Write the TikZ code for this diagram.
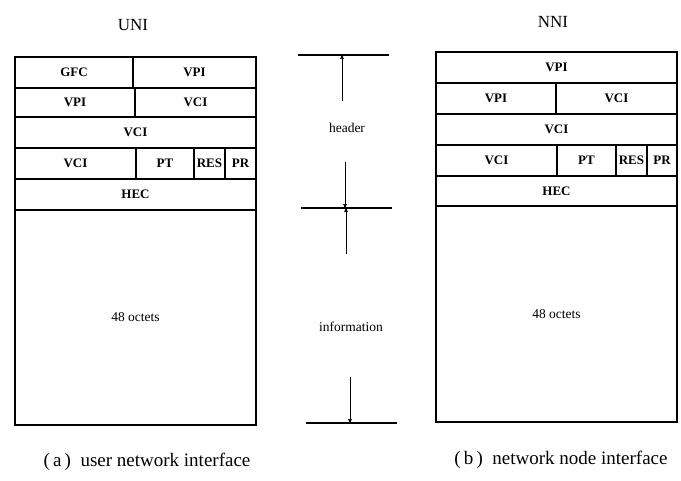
\documentclass[tikz,border=0pt]{standalone}
\usepackage{fontspec}
\setmainfont{Liberation Serif}
\usetikzlibrary{arrows}

\begin{document}
\begin{tikzpicture}[x=1pt,y=-1pt,>=stealth',semithick]
\tikzstyle{cell}=[draw=black,line width=1.2pt,inner sep=0pt,outer sep=0pt,anchor=north west,font=\fontsize{13}{15}\selectfont\bfseries]
\tikzstyle{tag}=[font=\fontsize{13.5}{16}\selectfont]
\tikzstyle{title}=[font=\fontsize{17}{20}\selectfont]
\tikzstyle{caption}=[font=\fontsize{19}{22}\selectfont]
\tikzstyle{bar}=[line width=1.5pt]
\useasboundingbox (0,0) rectangle (681,481);

% UNI cell
\node[title] (uni) at (133,25) {UNI};
\foreach \n/\x/\y/\w/\h/\t in {ugfc/15/57/118/31/GFC, uvpia/133/57/123/31/VPI,
    uvpib/15/88/120/29/VPI, uvcia/135/88/121/29/VCI,
    uvcib/15/117/241/31/VCI,
    uvcic/15/148/121/31/VCI, upt/136/148/58/31/PT, ures/194/148/31/31/RES, upr/225/148/31/31/PR,
    uhec/15/179/241/31/HEC}
  \node[cell,minimum width=\w pt,minimum height=\h pt] (\n) at (\x,\y) {\t};
\node[cell,tag,minimum width=241pt,minimum height=215pt] (upay) at (15,210) {48 octets};
\node[caption] (capa) at (147,462) {(\,a\,)\ \ user network interface};

% NNI cell
\node[title] (nni) at (553,22) {NNI};
\foreach \n/\x/\y/\w/\h/\t in {nvpia/436/52/241/31/VPI,
    nvpib/436/83/120/31/VPI, nvcia/556/83/121/31/VCI,
    nvcib/436/114/241/31/VCI,
    nvcic/436/145/121/31/VCI, npt/557/145/59/31/PT, nres/616/145/31/31/RES, npr/647/145/30/31/PR,
    nhec/436/176/241/30/HEC}
  \node[cell,minimum width=\w pt,minimum height=\h pt] (\n) at (\x,\y) {\t};
\node[cell,tag,minimum width=241pt,minimum height=216pt] (npay) at (436,206) {48 octets};
\node[caption] (capb) at (561,460) {(\,b\,)\ \ network node interface};

% header / information
\coordinate (topl) at (298,55);  \coordinate (topr) at (389,55);
\coordinate (midl) at (301,208); \coordinate (midr) at (392,208);
\coordinate (botl) at (306,423); \coordinate (botr) at (397,423);
\draw[bar] (topl) -- (topr);
\draw[bar] (midl) -- (midr);
\draw[bar] (botl) -- (botr);
\node[tag] (hdr) at (347,128) {header};
\node[tag] (info) at (351,327) {information};
\coordinate (ha) at (342,101); \coordinate (hta) at (342,55);
\coordinate (hb) at (345,162); \coordinate (htb) at (345,208);
\coordinate (ia) at (346,254); \coordinate (ita) at (346,208);
\coordinate (ib) at (350,377); \coordinate (itb) at (350,423);
\draw[->] (ha) -- (hta);
\draw[->] (hb) -- (htb);
\draw[->] (ia) -- (ita);
\draw[->] (ib) -- (itb);
\end{tikzpicture}
\end{document}
